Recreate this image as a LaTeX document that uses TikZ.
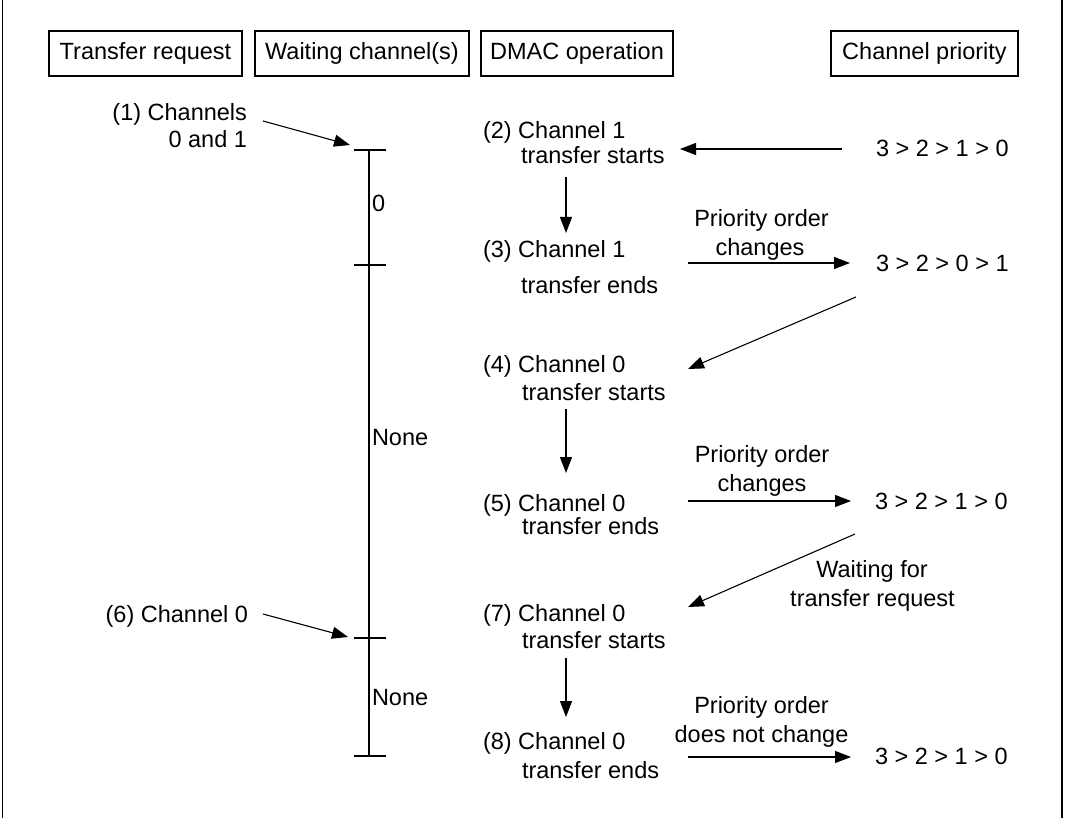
\documentclass[tikz,border=0pt]{standalone}
\usepackage{fontspec}
\setmainfont{Liberation Sans}
\usetikzlibrary{arrows.meta}
\begin{document}
\begin{tikzpicture}[x=1pt,y=-1pt,
  every node/.style={inner sep=0pt,outer sep=0pt,font=\fontsize{23.5}{28}\selectfont},
  hdr/.style={draw,line width=1.1pt,minimum height=45pt,anchor=center},
  lt/.style={anchor=base west},
  rt/.style={anchor=base east},
  ct/.style={anchor=base},
  arr/.style={line width=1.1pt,-{Triangle[length=16pt,width=12pt]}},
  ln/.style={line width=1.1pt}]
\useasboundingbox (0,0) rectangle (1067,818);
% frame sides
\coordinate (fl1) at (2.5,0); \coordinate (fl2) at (2.5,818);
\coordinate (fr1) at (1062,0); \coordinate (fr2) at (1062,818);
\draw[ln] (fl1) -- (fl2);
\draw[ln] (fr1) -- (fr2);
% headers
\node[hdr,minimum width=193pt] (h1) at (145.5,53.5) {Transfer request};
\node[hdr,minimum width=214pt] (h2) at (362,53.5) {Waiting channel(s)};
\node[hdr,minimum width=192pt] (h3) at (577,53.5) {DMAC operation};
\node[hdr,minimum width=187pt] (h4) at (924.5,53.5) {Channel priority};
% timeline
\coordinate (t0) at (369,150); \coordinate (t1) at (369,265);
\coordinate (t2) at (369,638); \coordinate (t3) at (369,756);
\draw[ln] (t0) -- (t3);
\foreach \c in {t0,t1,t2,t3}{\draw[ln] ([xshift=-15pt]\c) -- ([xshift=17pt]\c);}
\node[lt] (w0) at (372,212) {0};
\node[lt] (w1) at (372,445) {None};
\node[lt] (w2) at (372,705) {None};
% transfer requests
\node[rt] (r1a) at (247,121) {(1) Channels};
\node[rt] (r1b) at (247,148) {0 and 1};
\node[rt] (r6) at (248,622) {(6) Channel 0};
\coordinate (r1s) at (263,121); \coordinate (r1e) at (350,145);
\coordinate (r6s) at (263,614); \coordinate (r6e) at (348,637);
\draw[arr] (r1s) -- (r1e);
\draw[arr] (r6s) -- (r6e);
% DMAC operations
\node[lt] (o2a) at (483,139) {(2) Channel 1};
\node[lt] (o2b) at (521,164) {transfer starts};
\node[lt] (o3a) at (483,258) {(3) Channel 1};
\node[lt] (o3b) at (521,293) {transfer ends};
\node[lt] (o4a) at (483,372) {(4) Channel 0};
\node[lt] (o4b) at (522,400) {transfer starts};
\node[lt] (o5a) at (483,511) {(5) Channel 0};
\node[lt] (o5b) at (522,534) {transfer ends};
\node[lt] (o7a) at (483,621) {(7) Channel 0};
\node[lt] (o7b) at (522,648) {transfer starts};
\node[lt] (o8a) at (483,749) {(8) Channel 0};
\node[lt] (o8b) at (522,778) {transfer ends};
% down arrows
\coordinate (d1s) at (566,177); \coordinate (d1e) at (566,233);
\coordinate (d2s) at (566,409); \coordinate (d2e) at (566,473);
\coordinate (d3s) at (566,658); \coordinate (d3e) at (566,717);
\draw[arr] (d1s) -- (d1e);
\draw[arr] (d2s) -- (d2e);
\draw[arr] (d3s) -- (d3e);
% priorities
\node[lt] (p1) at (876,157) {3 > 2 > 1 > 0};
\node[lt] (p2) at (876,271) {3 > 2 > 0 > 1};
\node[lt] (p3) at (875,509) {3 > 2 > 1 > 0};
\node[lt] (p4) at (875,764) {3 > 2 > 1 > 0};
% horizontal arrows
\coordinate (a1s) at (842,149); \coordinate (a1e) at (680,149);
\coordinate (a2s) at (688,263); \coordinate (a2e) at (850,263);
\coordinate (a3s) at (688,501); \coordinate (a3e) at (851,501);
\coordinate (a4s) at (688,757); \coordinate (a4e) at (851,757);
\draw[arr] (a1s) -- (a1e);
\draw[arr] (a2s) -- (a2e);
\draw[arr] (a3s) -- (a3e);
\draw[arr] (a4s) -- (a4e);
\node[ct] (l2a) at (761.5,226) {Priority order};
\node[ct] (l2b) at (760,255) {changes};
\node[ct] (l3a) at (762,462) {Priority order};
\node[ct] (l3b) at (762,491) {changes};
\node[ct] (l4a) at (761.5,713) {Priority order};
\node[ct] (l4b) at (761.5,742) {does not change};
% diagonal arrows
\coordinate (g1s) at (856,297); \coordinate (g1e) at (688,369);
\coordinate (g2s) at (855,534); \coordinate (g2e) at (688,607);
\draw[arr] (g1s) -- (g1e);
\draw[arr] (g2s) -- (g2e);
\node[ct] (wa) at (872,577) {Waiting for};
\node[ct] (wb) at (872.5,606) {transfer request};
\end{tikzpicture}
\end{document}
